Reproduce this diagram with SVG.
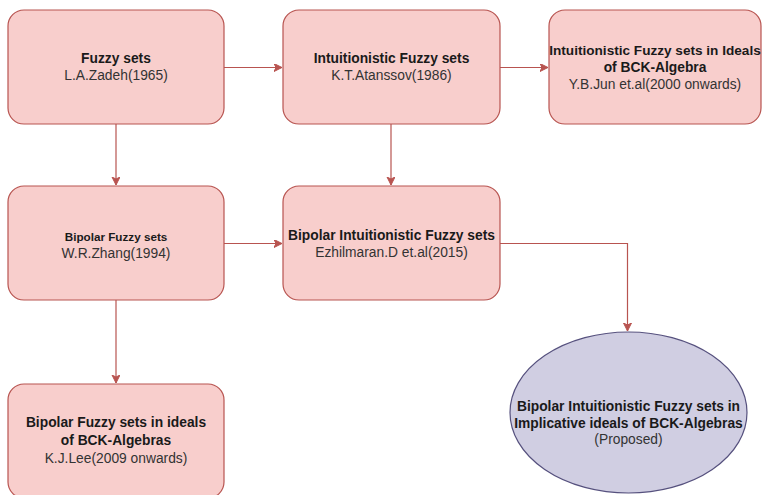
<svg xmlns="http://www.w3.org/2000/svg" width="762" height="495" viewBox="0 0 762 495">
<defs>
<marker id="arr" markerWidth="10" markerHeight="10" refX="8" refY="4" orient="auto" markerUnits="userSpaceOnUse">
<path d="M0,0 L8,4 L0,8 L2,4 Z" fill="#b85450" stroke="#b85450" stroke-width="1"/>
</marker>
<style>
.box{fill:#f8cecc;stroke:#b85450;stroke-width:1.2}
.ell{fill:#d0cee2;stroke:#56517e;stroke-width:1.2}
.con{fill:none;stroke:#b85450;stroke-width:1.2;marker-end:url(#arr)}
text{font-family:"Liberation Sans",Arial,sans-serif;text-anchor:middle;font-size:13.8px}
.b{font-weight:bold;fill:#1a1a1a}
.r{fill:#333333}
</style>
</defs>
<rect width="762" height="495" fill="#ffffff"/>
<g id="connectors">
<path class="con" d="M224,67.5 L282,67.5"/>
<path class="con" d="M500,67.5 L548,67.5"/>
<path class="con" d="M116,124 L116,185"/>
<path class="con" d="M391,124 L391,185"/>
<path class="con" d="M224,243.5 L282,243.5"/>
<path class="con" d="M116,300 L116,383"/>
<path class="con" d="M500,243.5 L627.5,243.5 L627.5,331"/>
</g>
<g id="node-fuzzy">
<rect class="box" x="8" y="10" width="216" height="114" rx="16"/>
<text class="b" x="116" y="63">Fuzzy sets</text>
<text class="r" x="116" y="80">L.A.Zadeh(1965)</text>
</g>
<g id="node-ifs">
<rect class="box" x="283" y="10" width="217" height="114" rx="16"/>
<text class="b" x="391.5" y="63">Intuitionistic Fuzzy sets</text>
<text class="r" x="391.5" y="80">K.T.Atanssov(1986)</text>
</g>
<g id="node-ifs-bck">
<rect class="box" x="549" y="10" width="212" height="114" rx="16"/>
<text class="b" x="655" y="55" style="font-size:13.6px">Intuitionistic Fuzzy sets in Ideals</text>
<text class="b" x="655" y="72">of BCK-Algebra</text>
<text class="r" x="655" y="89">Y.B.Jun et.al(2000 onwards)</text>
</g>
<g id="node-bfs">
<rect class="box" x="8" y="186" width="216" height="114" rx="16"/>
<text class="b" x="116" y="241" style="font-size:11.7px">Bipolar Fuzzy sets</text>
<text class="r" x="116" y="258">W.R.Zhang(1994)</text>
</g>
<g id="node-bifs">
<rect class="box" x="283" y="186" width="217" height="114" rx="16"/>
<text class="b" x="391.5" y="240">Bipolar Intuitionistic Fuzzy sets</text>
<text class="r" x="391.5" y="257">Ezhilmaran.D et.al(2015)</text>
</g>
<g id="node-bfs-bck">
<rect class="box" x="8" y="384" width="216" height="114" rx="16"/>
<text class="b" x="116" y="427">Bipolar Fuzzy sets in ideals</text>
<text class="b" x="116" y="445">of BCK-Algebras</text>
<text class="r" x="116" y="463">K.J.Lee(2009 onwards)</text>
</g>
<g id="node-proposed">
<ellipse class="ell" cx="628.5" cy="412.5" rx="118.5" ry="80.5"/>
<text class="b" x="628.5" y="411">Bipolar Intuitionistic Fuzzy sets in</text>
<text class="b" x="628.5" y="428">Implicative ideals of BCK-Algebras</text>
<text class="r" x="628.5" y="444">(Proposed)</text>
</g>
</svg>
